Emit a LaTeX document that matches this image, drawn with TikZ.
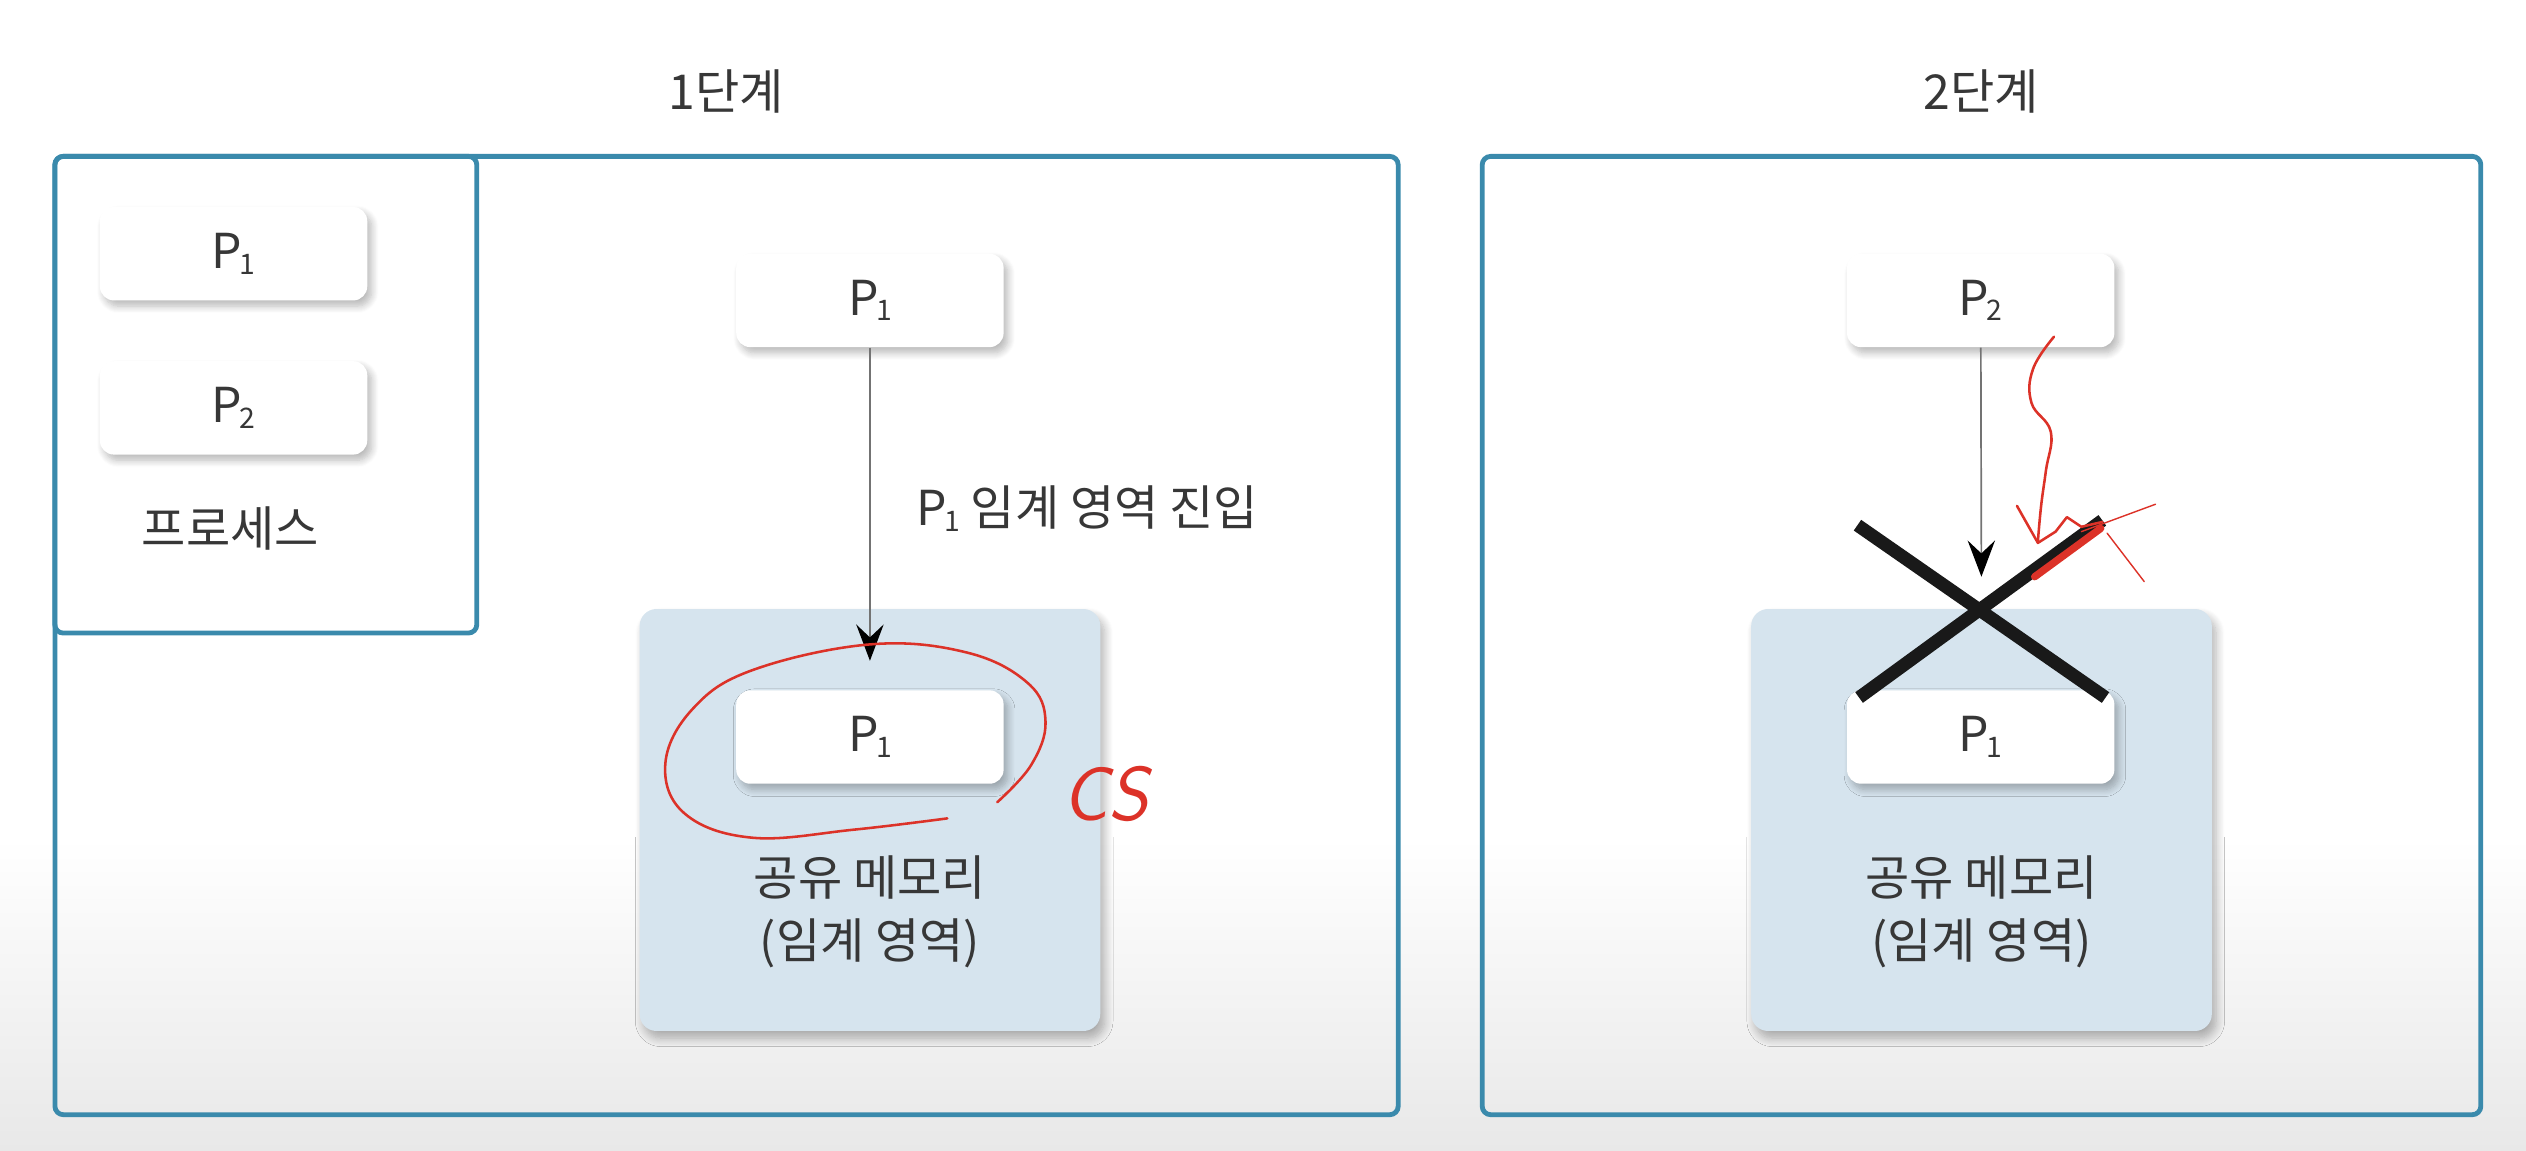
\documentclass[tikz,border=0pt]{standalone}
\usepackage{fontspec}
\setmainfont{Noto Sans CJK KR}
\usetikzlibrary{positioning,arrows.meta,calc,shadows.blur}
\definecolor{frameTeal}{RGB}{58,138,172}
\definecolor{memBlue}{RGB}{214,228,238}
\definecolor{inkGray}{RGB}{55,55,55}
\definecolor{penRed}{RGB}{220,50,40}
\tikzset{
	frame/.style={
		draw=frameTeal,
		line width=1.7pt,
		rounded corners=3pt,
	},
	procbox/.style={
		fill=white,
		rounded corners=5pt,
		minimum width=3.32cm,
		minimum height=1.16cm,
		text=inkGray,
		blur shadow={shadow xshift=1.5pt, shadow yshift=-2pt, shadow opacity=28, shadow blur radius=2.5pt, shadow blur steps=8},
	},
	membox/.style={
		fill=memBlue,
		rounded corners=6pt,
		minimum width=5.72cm,
		minimum height=5.24cm,
		blur shadow={shadow xshift=1.5pt, shadow yshift=-2.5pt, shadow opacity=30, shadow blur radius=3pt, shadow blur steps=10},
	},
	label/.style={text=inkGray, align=center},
	flow/.style={
		-{Stealth[length=4.5mm, width=3.4mm, inset=1.6mm, color=black]},
		line width=0.6pt,
		draw=black!55,
	},
	crossbar/.style={line width=4.6pt, draw=black!90},
	pen/.style={draw=penRed, line width=0.9pt, line cap=round, line join=round},
}
\newcommand{\proc}[1]{P\kern-0.05em\raisebox{-0.22ex}{\fontsize{10pt}{10pt}\selectfont #1}}

\begin{document}
\begin{tikzpicture}[
		x=0.02cm, y=-0.02cm,
		every node/.style={font=\fontsize{17pt}{22pt}\selectfont}
		]
		\useasboundingbox (0,0) rectangle (1568,714);
		\shade[top color=white, bottom color=black!9] (0,520) rectangle (1568,714);
		
		% --- Frames ---
		\node[frame, minimum width=16.68cm, minimum height=11.9cm] (stage1) at (451,394.5) {};
		\node[frame, minimum width=5.24cm, minimum height=5.92cm] (pool) at (165,245) {};
		\node[frame, minimum width=12.4cm, minimum height=11.9cm] (stage2) at (1230,394.5) {};
		\node[label] (title1) at (stage1.north |- 0,57) {1단계};
		\node[label] (title2) at (stage2.north |- 0,57) {2단계};
		
		% --- Process pool ---
		\node[procbox] (pool1) at (145,157.5) {\proc{1}};
		\node[procbox] (pool2) [below=0.74cm of pool1] {\proc{2}};
		\node[label] (poolname) at (143,328) {프로세스};
		
		% --- Stage 1 ---
		\node[procbox] (enter1) at (540,186.5) {\proc{1}};
		\node[membox] (mem1) at (540,509) {};
		\node[procbox] (held1) at (540,457.5) {\proc{1}};
		\node[label] (memname1) at (540,566) {공유 메모리\\(임계 영역)};
		\draw[flow, shorten >=0.36cm] (enter1) -- (held1)
			node[label, pos=0.47, right=0.45cm, anchor=west] (entername) {\proc{1} 임계 영역 진입};
		
		% red pen marks
		\draw[pen] plot[smooth, tension=0.65] coordinates {(588,508) (530,515) (467,520) (425,505) (413,474) (430,440) (467,416) (540,400) (600,405) (638,424) (649,448) (640,475) (619,498)};
		\node[text=penRed, font=\sffamily\itshape\fontsize{27pt}{27pt}\selectfont] (cs) at (686,493) {CS};
		
		% --- Stage 2 ---
		\node[procbox] (enter2) at (1229.5,186.5) {\proc{2}};
		\node[membox] (mem2) at (1230,509) {};
		\node[procbox] (held2) at (1229.5,457.5) {\proc{1}};
		\node[label] (memname2) at (1230,566) {공유 메모리\\(임계 영역)};
		\coordinate (block) at (1230,379);
		\draw[flow, shorten >=0.42cm] (enter2) -- (block);
		\draw[crossbar] ($(block)+(-77,-53)$) -- ($(block)+(77,54)$);
		\draw[crossbar] ($(block)+(-76,54)$) -- ($(block)+(75,-56)$);
		
		% red pen marks
		\draw[pen] plot[smooth, tension=0.7] coordinates {(1275,209) (1262,229) (1261,250) (1273,268) (1270,292) (1267,314) (1265,336)};
		\draw[pen] (1252,314) -- (1265,337) -- (1276,330) -- (1283,321) -- (1292,327) -- (1305,324);
		\draw[pen, line width=2.6pt] (1263,358) -- (1304,328);
		\draw[pen, line width=0.5pt] (1292,330) -- (1338,313);
		\draw[pen, line width=0.5pt] (1308,331) -- (1331,361);
\end{tikzpicture}
\end{document}
